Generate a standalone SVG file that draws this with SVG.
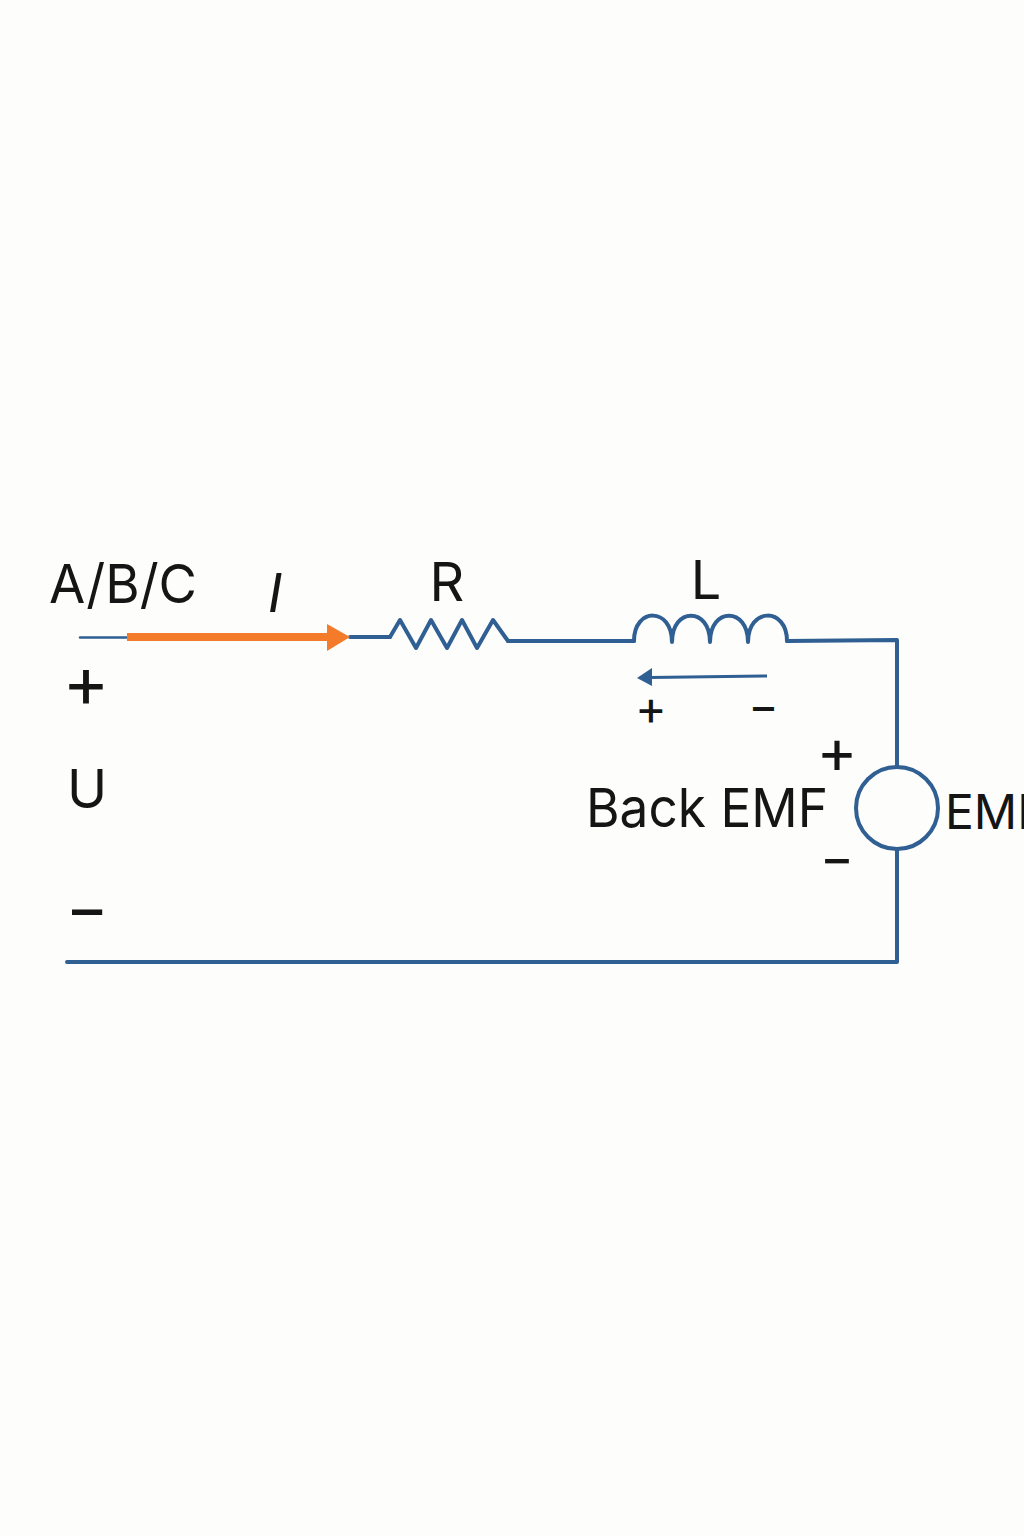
<svg xmlns="http://www.w3.org/2000/svg" width="1024" height="1536" viewBox="0 0 1024 1536">
<defs>
<style>
text{font-family:"Inter","Liberation Sans",sans-serif;fill:#151515}
.w{fill:none;stroke:#2f5f93;stroke-width:4;stroke-linejoin:round;stroke-linecap:round}
</style>
</defs>
<rect id="background" width="1024" height="1536" fill="#fdfdfb"/>
<g id="connectors">
<path class="w" style="stroke-width:2.5" d="M80 637.5H128"/>
<path class="w" d="M350 637H390"/>
<path class="w" d="M508 641H634"/>
<path class="w" d="M787 641L897 640V767"/>
<path class="w" d="M897 850V962H67"/>
<path d="M127 637H330" fill="none" stroke="#f47b2a" stroke-width="8"/>
<path d="M327 624L350 637L327 651Z" fill="#f47b2a"/>
<path d="M767 676L650 677.5" fill="none" stroke="#2f5f93" stroke-width="3"/>
<path d="M637 678L652 668V686Z" fill="#2f5f93"/>
</g>
<g id="resistor-R">
<path class="w" d="M390 637L400 620L416 648L431 620L447 648L462 620L477 648L493 620L508 641"/>
<text x="447" y="601" font-size="54" text-anchor="middle">R</text>
</g>
<g id="inductor-L">
<path class="w" d="M634 641C634 607 672 607 672 642C672 607 710 607 710 642C710 607 748 607 748 642C748 607 787 607 787 641"/>
<text x="706" y="599" font-size="54" text-anchor="middle">L</text>
</g>
<g id="source-EMF">
<circle cx="897" cy="808" r="41" fill="none" stroke="#2f5f93" stroke-width="4"/>
<text x="586" y="827" font-size="54" textLength="242" lengthAdjust="spacingAndGlyphs">Back EMF</text>
<text x="945" y="829" font-size="48">EMF</text>
<text x="837" y="773" font-size="62" text-anchor="middle">+</text>
<text x="837" y="876" font-size="52" text-anchor="middle">−</text>
</g>
<g id="terminal-labels">
<text x="49" y="603" font-size="54" textLength="148" lengthAdjust="spacingAndGlyphs">A/B/C</text>
<text x="275" y="612" font-size="54" font-style="italic" text-anchor="middle">I</text>
<text x="86" y="707" font-size="71" text-anchor="middle">+</text>
<text x="87" y="808" font-size="54" text-anchor="middle">U</text>
<text x="87" y="931" font-size="66" text-anchor="middle">−</text>
<text x="651" y="725" font-size="48" text-anchor="middle">+</text>
<text x="763.5" y="722" font-size="46" text-anchor="middle">−</text>
</g>
</svg>
